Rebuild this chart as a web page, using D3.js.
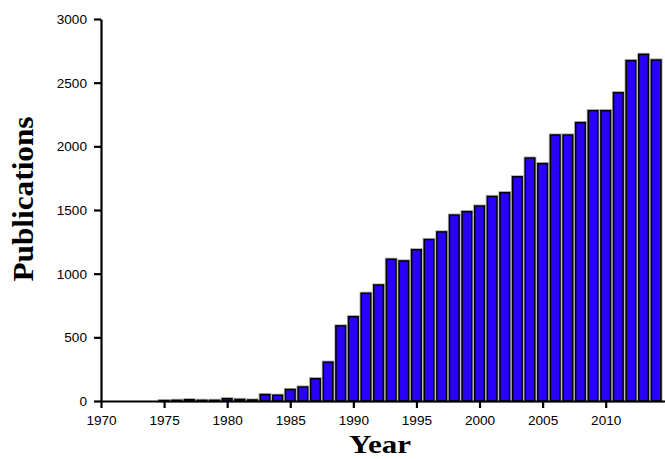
<!DOCTYPE html>
<html><head><meta charset="utf-8">
<script src="https://cdn.jsdelivr.net/npm/d3@7"></script>
<style>body{margin:0;background:#fff}svg{display:block}</style>
</head><body>
<script>
const years = [1975,1976,1977,1978,1979,1980,1981,1982,1983,1984,1985,1986,1987,1988,1989,1990,1991,1992,1993,1994,1995,1996,1997,1998,1999,2000,2001,2002,2003,2004,2005,2006,2007,2008,2009,2010,2011,2012,2013,2014];
const publications = [3,5,10,5,5,18,12,8,50,45,90,110,175,305,590,662,846,911,1113,1100,1188,1268,1328,1460,1487,1531,1606,1636,1761,1908,1864,2089,2089,2186,2280,2280,2421,2673,2722,2678];
const xTicks = [1970,1975,1980,1985,1990,1995,2000,2005,2010];
const yTicks = [0,500,1000,1500,2000,2500,3000];

const W = 665, H = 459;
const svg = d3.select("body").append("svg").attr("width", W).attr("height", H);
const x = d3.scaleLinear().domain([1970, 2014.7]).range([101, 665]);
const y = d3.scaleLinear().domain([0, 3000]).range([401, 19]);
const bw = 9.6;

const g = svg.append("g");
g.selectAll("rect.halo").data(years).join("rect").attr("class","halo")
  .attr("x", (d) => x(d) - bw/2).attr("width", bw)
  .attr("y", (d,i) => y(publications[i])).attr("height", (d,i) => y(0) - y(publications[i]))
  .attr("fill", "none").attr("stroke", "#b0b0b0").attr("stroke-width", 3.2);
g.selectAll("rect.bar").data(years).join("rect").attr("class","bar")
  .attr("x", (d) => x(d) - bw/2).attr("width", bw)
  .attr("y", (d,i) => y(publications[i])).attr("height", (d,i) => y(0) - y(publications[i]))
  .attr("fill", "#2a00fb").attr("stroke", "#000").attr("stroke-width", 1.5);

const xAxis = svg.append("g").attr("transform", `translate(0,${y(0)})`)
  .call(d3.axisBottom(x).tickValues(xTicks).tickFormat(d3.format("d")).tickSize(7).tickSizeOuter(0));
const yAxis = svg.append("g").attr("transform", `translate(${x(1970)},0)`)
  .call(d3.axisLeft(y).tickValues(yTicks).tickFormat(d3.format("d")).tickSize(7).tickSizeOuter(0));
[xAxis, yAxis].forEach(a => {
  a.attr("font-family", "'Liberation Sans', Arial, sans-serif").attr("font-size", 13.6);
  a.select(".domain").attr("stroke", "#000").attr("stroke-width", 2.2);
  a.selectAll(".tick line").attr("stroke", "#000").attr("stroke-width", 2.2);
  a.selectAll("text").attr("fill", "#000");
});
xAxis.selectAll("text").attr("dy", "1.0em");
yAxis.selectAll("text").attr("x", -14);

svg.append("text").attr("x", 380).attr("y", 453).attr("text-anchor", "middle")
  .attr("font-family", "'Liberation Serif', 'Times New Roman', serif").attr("font-weight", "bold").attr("font-size", 25)
  .attr("textLength", 62).attr("lengthAdjust", "spacingAndGlyphs")
  .text("Year");
svg.append("text").attr("transform", "translate(33,199) rotate(-90)").attr("text-anchor", "middle")
  .attr("font-family", "'Liberation Serif', 'Times New Roman', serif").attr("font-weight", "bold").attr("font-size", 29)
  .attr("textLength", 165).attr("lengthAdjust", "spacingAndGlyphs")
  .text("Publications");
</script>
</body></html>
